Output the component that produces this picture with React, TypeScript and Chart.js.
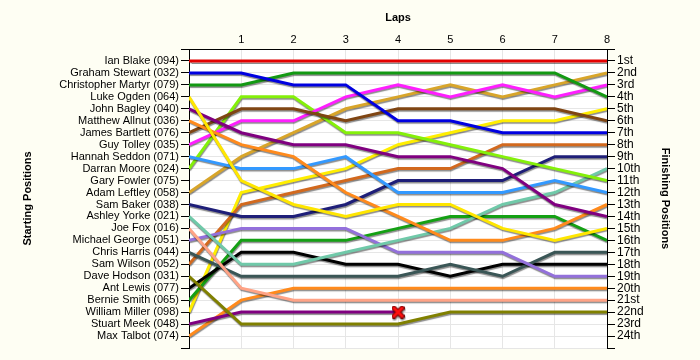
import React, { useEffect, useRef } from "react";
import { Chart, registerables } from "chart.js";
Chart.register(...registerables);

const laps = [0, 1, 2, 3, 4, 5, 6, 7, 8];
const drivers = [
  "Ian Blake (094)", "Graham Stewart (032)", "Christopher Martyr (079)", "Luke Ogden (064)",
  "John Bagley (040)", "Matthew Allnut (036)", "James Bartlett (076)", "Guy Tolley (035)",
  "Hannah Seddon (071)", "Darran Moore (024)", "Gary Fowler (075)", "Adam Leftley (058)",
  "Sam Baker (038)", "Ashley Yorke (021)", "Joe Fox (016)", "Michael George (051)",
  "Chris Harris (044)", "Sam Wilson (052)", "Dave Hodson (031)", "Ant Lewis (077)",
  "Bernie Smith (065)", "William Miller (098)", "Stuart Meek (048)", "Max Talbot (074)",
];
const finishLabels = [
  "1st", "2nd", "3rd", "4th", "5th", "6th", "7th", "8th", "9th", "10th", "11th", "12th",
  "13th", "14th", "15th", "16th", "17th", "18th", "19th", "20th", "21st", "22nd", "23rd", "24th",
];

const ianBlake = [1, 1, 1, 1, 1, 1, 1, 1, 1];
const grahamStewart = [2, 2, 3, 3, 6, 6, 7, 7, 7];
const christopherMartyr = [3, 3, 2, 2, 2, 2, 2, 2, 4];
const lukeOgden = [4, 11, 13, 14, 13, 13, 15, 16, 15];
const johnBagley = [5, 7, 8, 8, 9, 9, 10, 13, 14];
const matthewAllnut = [6, 8, 9, 12, 14, 16, 16, 15, 13];
const jamesBartlett = [7, 5, 5, 6, 5, 5, 5, 5, 6];
const guyTolley = [8, 6, 6, 4, 3, 4, 3, 4, 3];
const hannahSeddon = [9, 10, 10, 9, 12, 12, 12, 11, 12];
const darranMoore = [10, 4, 4, 7, 7, 8, 9, 10, 11];
const garyFowler: number[] = [];
const adamLeftley = [12, 9, 7, 5, 4, 3, 4, 3, 2];
const samBaker = [13, 14, 14, 13, 11, 11, 11, 9, 9];
const ashleyYorke = [14, 18, 18, 17, 16, 15, 13, 12, 10];
const joeFox = [15, 20, 21, 21, 21, 21, 21, 21, 21];
const michaelGeorge = [16, 15, 15, 15, 17, 17, 17, 19, 19];
const chrisHarris = [17, 19, 19, 19, 19, 18, 19, 17, 17];
const samWilson = [18, 13, 12, 11, 10, 10, 8, 8, 8];
const daveHodson = [19, 23, 23, 23, 23, 22, 22, 22, 22];
const antLewis = [20, 17, 17, 18, 18, 19, 18, 18, 18];
const bernieSmith = [21, 16, 16, 16, 15, 14, 14, 14, 16];
const williamMiller = [22, 12, 11, 10, 8, 7, 6, 6, 5];
const stuartMeek = [23, 22, 22, 22, 22];
const maxTalbot = [24, 21, 20, 20, 20, 20, 20, 20, 20];

const series = [
  ianBlake, grahamStewart, christopherMartyr, lukeOgden, johnBagley, matthewAllnut,
  jamesBartlett, guyTolley, hannahSeddon, darranMoore, garyFowler, adamLeftley,
  samBaker, ashleyYorke, joeFox, michaelGeorge, chrisHarris, samWilson, daveHodson,
  antLewis, bernieSmith, williamMiller, stuartMeek, maxTalbot,
];
const colors = [
  "#e40000", "#0000e0", "#139913", "#ffe600", "#800080", "#ff8a1c",
  "#7f4513", "#ff1eff", "#3399ff", "#84f00a", "#999999", "#d8a52a",
  "#1e1e78", "#70c9a9", "#ffa386", "#9370db", "#3a5656", "#d2691e", "#808000",
  "#000000", "#14a014", "#ffee00", "#800080", "#ff8a1c",
];
const retiredLap = 4;

const FONT = "'Liberation Sans', Arial, sans-serif";

export default function App() {
  const ref = useRef<HTMLCanvasElement | null>(null);
  useEffect(() => {
    if (!ref.current) return;
    const xMark = document.createElement("canvas");
    xMark.width = 13;
    xMark.height = 13;
    const mc = xMark.getContext("2d")!;
    mc.lineCap = "round";
    mc.strokeStyle = "#7a0000";
    mc.lineWidth = 5;
    mc.beginPath();
    mc.moveTo(2.5, 2.5); mc.lineTo(10.5, 10.5);
    mc.moveTo(10.5, 2.5); mc.lineTo(2.5, 10.5);
    mc.stroke();
    mc.strokeStyle = "#ff1010";
    mc.lineWidth = 3;
    mc.stroke();

    const bgPlugin = {
      id: "bg",
      beforeDraw(chart: any) {
        const { ctx, chartArea } = chart;
        ctx.save();
        ctx.fillStyle = "#fefef3";
        ctx.fillRect(0, 0, chart.width, chart.height);
        ctx.fillStyle = "#ffffff";
        ctx.fillRect(chartArea.left, chartArea.top, chartArea.right - chartArea.left, chartArea.bottom - chartArea.top);
        ctx.restore();
      },
    };
    const shadowPlugin = {
      id: "shadow",
      beforeDatasetDraw(chart: any) {
        const ctx = chart.ctx;
        ctx.save();
        ctx.shadowColor = "rgba(0,0,0,0.45)";
        ctx.shadowOffsetX = 0.5;
        ctx.shadowOffsetY = 1.5;
        ctx.shadowBlur = 1;
      },
      afterDatasetDraw(chart: any) {
        chart.ctx.restore();
      },
    };

    const datasets = series.map((s, i) => ({
      label: drivers[i],
      data: s.map((p, j) => ({ x: laps[j], y: p })),
      borderColor: colors[i],
      backgroundColor: colors[i],
      borderWidth: 3,
      tension: 0,
      fill: false,
      pointStyle: xMark as any,
      pointRadius: (c: any) => (s === stuartMeek && c.dataIndex === retiredLap ? 6 : 0),
      pointHoverRadius: 0,
    }));

    const tickFont = { family: FONT, size: 11 };
    const titleFont = { family: FONT, size: 11, weight: "bold" as const };

    const chart = new Chart(ref.current, {
      type: "line",
      data: { datasets },
      plugins: [bgPlugin, shadowPlugin],
      options: {
        animation: false,
        responsive: false,
        devicePixelRatio: 1,
        events: [],
        layout: { padding: { left: 0, right: 0, top: 0, bottom: 12 } },
        plugins: { legend: { display: false }, tooltip: { enabled: false } },
        scales: {
          x: {
            type: "linear",
            position: "top",
            min: 0,
            max: 8,
            afterFit: (s: any) => { s.height = 49; },
            ticks: {
              stepSize: 1,
              autoSkip: false,
              padding: 2,
              color: "#000",
              font: tickFont,
              callback: (v: any) => (v === 0 ? "" : String(v)),
            },
            grid: { color: "#e6e6e6", drawTicks: false },
            border: { color: "#000", width: 1 },
            title: { display: true, text: "Laps", color: "#000", font: titleFont, padding: { top: 11, bottom: 0 } },
          },
          y: {
            type: "linear",
            position: "left",
            reverse: true,
            min: 0,
            max: 25,
            afterFit: (s: any) => { s.width = 189; },
            ticks: {
              stepSize: 1,
              autoSkip: false,
              padding: 2,
              color: "#000",
              font: tickFont,
              callback: (v: any) => drivers[v - 1] ?? "",
            },
            grid: { color: "#e6e6e6", tickColor: "#000", tickLength: 8 },
            border: { color: "#000", width: 1 },
            title: { display: true, text: "Starting Positions", color: "#000", font: titleFont, padding: { top: 21, bottom: 0 } },
          },
          y2: {
            type: "linear",
            position: "right",
            reverse: true,
            min: 0,
            max: 25,
            afterFit: (s: any) => { s.width = 93; },
            ticks: {
              stepSize: 1,
              autoSkip: false,
              padding: 2,
              color: "#000",
              font: { family: FONT, size: 12 },
              callback: (v: any) => finishLabels[v - 1] ?? "",
            },
            grid: { drawOnChartArea: false, color: "#000", tickColor: "#000", tickLength: 8 },
            border: { color: "#000", width: 1 },
            title: { display: true, text: "Finishing Positions", color: "#000", font: titleFont, padding: { top: 28, bottom: 0 } },
          },
        },
      },
    });
    return () => chart.destroy();
  }, []);

  return (
    <div style={{ position: "fixed", left: 0, top: 0, width: 700, height: 360 }}>
      <canvas ref={ref} width={700} height={360} style={{ display: "block", width: 700, height: 360 }} />
    </div>
  );
}
